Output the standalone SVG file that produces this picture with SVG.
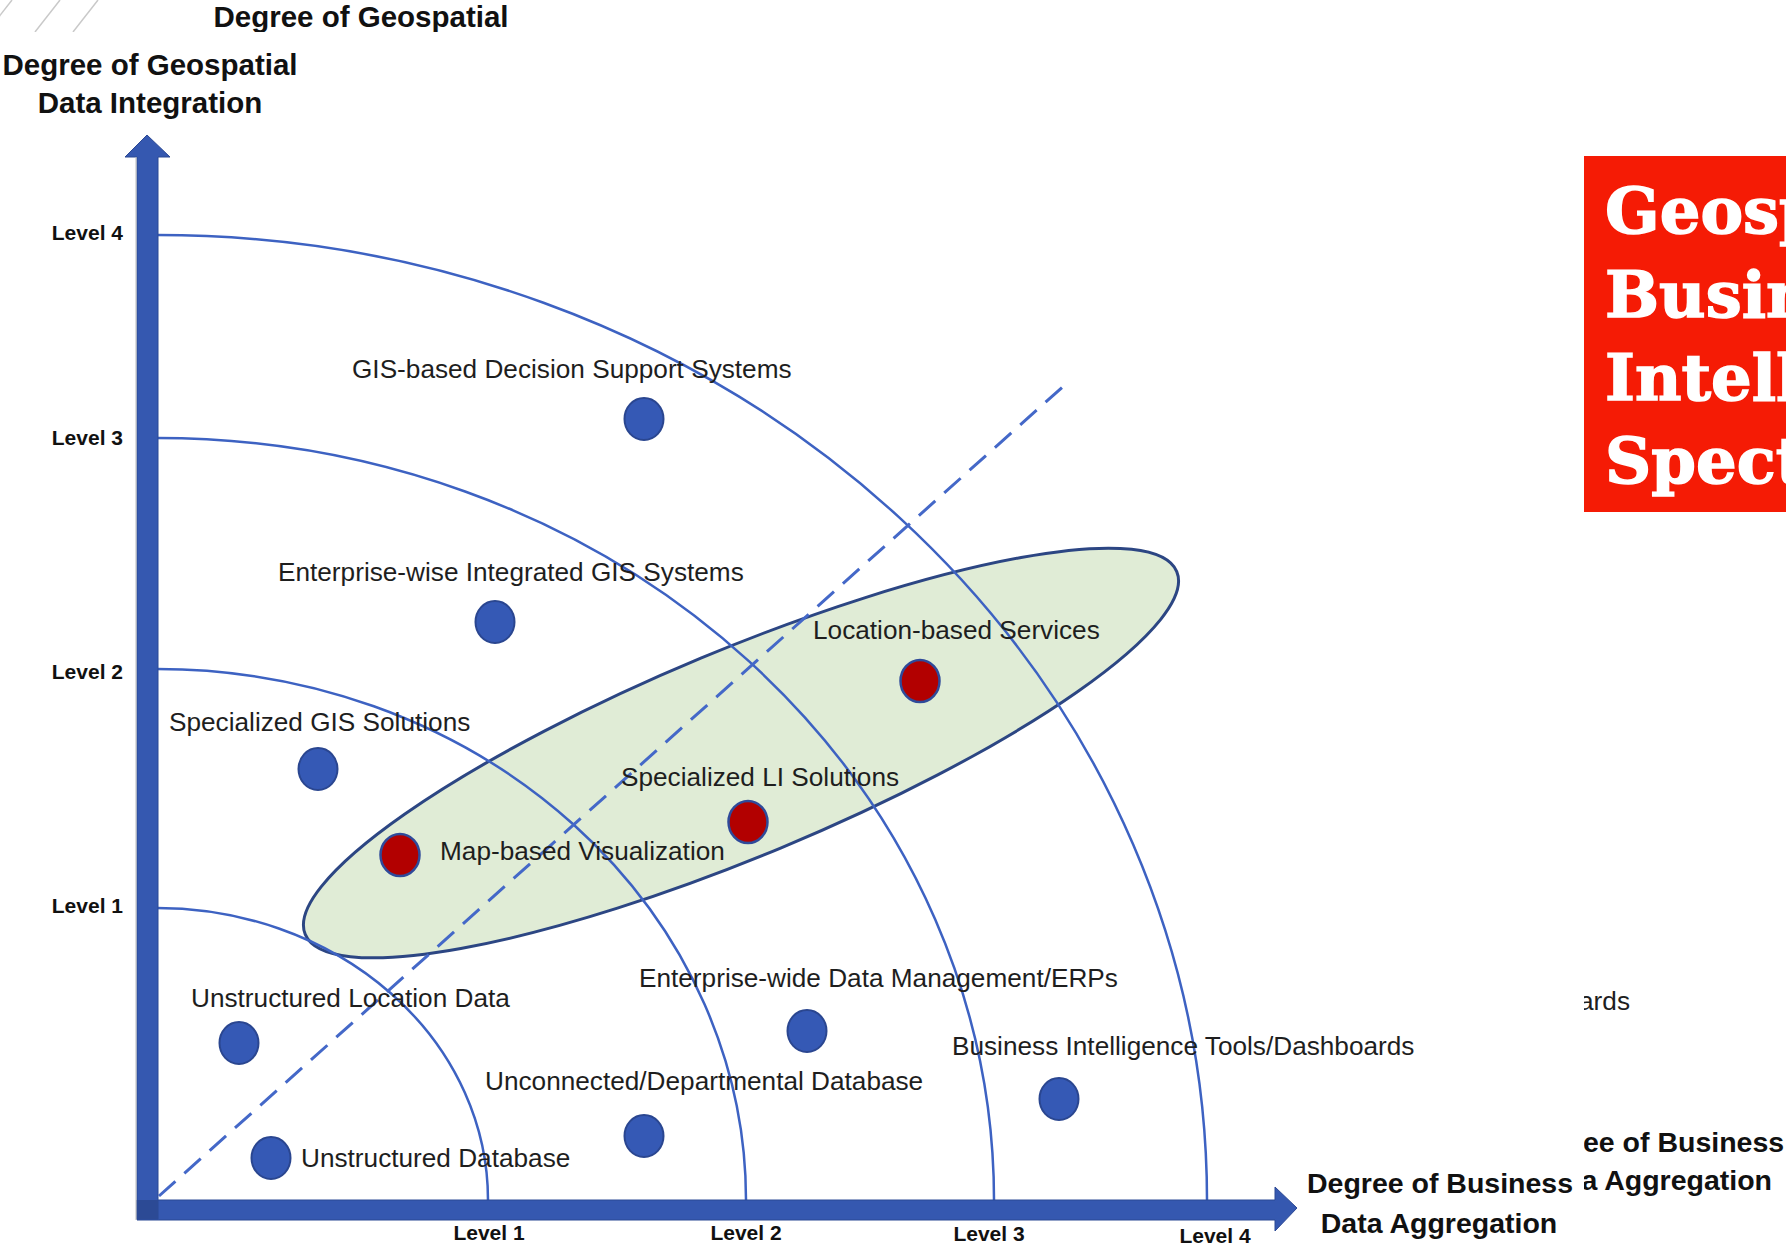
<svg xmlns="http://www.w3.org/2000/svg" width="1786" height="1246" viewBox="0 0 1786 1246">
<style>
.lbl{font-family:"Liberation Sans",Arial,sans-serif;font-size:26.2px;fill:#1e1e1e}
.lvl{font-family:"Liberation Sans",Arial,sans-serif;font-size:21px;font-weight:bold;fill:#111}
.ttl{font-family:"Liberation Sans",Arial,sans-serif;font-size:29.5px;font-weight:bold;fill:#111}
.ttl2{font-family:"Liberation Sans",Arial,sans-serif;font-size:28.5px;font-weight:bold;fill:#111}
.arc{fill:none;stroke:#3d62c2;stroke-width:2.5}
.dot{fill:#3559b5;stroke:#2a4690;stroke-width:2}
.red{fill:#b20000;stroke:#2f4a9a;stroke-width:2.5}
.axis{fill:#3558b0;stroke:#2b4894;stroke-width:1}
.red-t{font-family:"DejaVu Serif","Liberation Serif",serif;font-size:64px;font-weight:bold;fill:#fff;stroke:#fff;stroke-width:1.5}
</style>
<defs>
<clipPath id="topstrip"><rect x="0" y="0" width="1786" height="32"/></clipPath>
<clipPath id="rightstrip"><rect x="1584" y="0" width="202" height="1246"/></clipPath>
</defs>
<rect x="0" y="0" width="1786" height="1246" fill="#fff"/>
<g id="background-strip" clip-path="url(#topstrip)">
<g stroke="#c9c9c9" stroke-width="1.5">
<line x1="-13" y1="32" x2="12" y2="0"/>
<line x1="35" y1="32" x2="60" y2="0"/>
<line x1="73" y1="32" x2="98" y2="0"/>
</g>
<text class="ttl" x="361" y="27" text-anchor="middle">Degree of Geospatial</text>
</g>
<g id="background-right" clip-path="url(#rightstrip)">
<text class="lbl" x="1630" y="1010" text-anchor="end">ards</text>
<text class="ttl2" x="1583" y="1152">ee of Business</text>
<text class="ttl2" x="1772" y="1190" text-anchor="end">a Aggregation</text>
</g>
<g id="title-box">
<rect x="1584" y="156" width="210" height="356" fill="#f51b05"/>
<text class="red-t" x="1605" y="233">Geosp</text>
<text class="red-t" x="1605" y="317">Busin</text>
<text class="red-t" x="1605" y="400">Intell</text>
<text class="red-t" x="1605" y="483">Spect</text>
</g>
<g id="cluster">
<ellipse cx="741" cy="753" rx="472" ry="103" transform="rotate(-22.6 741 753)" fill="#e0ecd6" stroke="#2c4683" stroke-width="3"/>
</g>
<g id="connectors">
<path class="arc" d="M157,908 A331,292 0 0,1 488,1200"/>
<path class="arc" d="M157,669 A589,531 0 0,1 746,1200"/>
<path class="arc" d="M157,438 A837,762 0 0,1 994,1200"/>
<path class="arc" d="M157,235 A1050,965 0 0,1 1207,1200"/>
<line x1="159" y1="1196" x2="1067" y2="383" stroke="#4468c8" stroke-width="3" stroke-dasharray="22 12"/>
</g>
<g id="axes">
<polygon class="axis" points="137,1200 1275,1200 1275,1187 1297,1208 1275,1231 1275,1220 137,1220"/>
<polygon class="axis" points="137,1219 137,157 125,157 147,135 170,157 158,157 158,1219"/>
<rect x="137" y="1200" width="21" height="19" fill="#2c4a95"/>
<line x1="136" y1="157" x2="136" y2="1220" stroke="#bbb" stroke-width="1"/>
</g>
<g id="axis-labels">
<text class="ttl" x="150" y="75" text-anchor="middle">Degree of Geospatial</text>
<text class="ttl" x="150" y="113" text-anchor="middle">Data Integration</text>
<text class="ttl2" x="1440" y="1193" text-anchor="middle">Degree of Business</text>
<text class="ttl2" x="1439" y="1233" text-anchor="middle">Data Aggregation</text>
<text class="lvl" x="123" y="240" text-anchor="end">Level 4</text>
<text class="lvl" x="123" y="445" text-anchor="end">Level 3</text>
<text class="lvl" x="123" y="679" text-anchor="end">Level 2</text>
<text class="lvl" x="123" y="913" text-anchor="end">Level 1</text>
<text class="lvl" x="489" y="1240" text-anchor="middle">Level 1</text>
<text class="lvl" x="746" y="1240" text-anchor="middle">Level 2</text>
<text class="lvl" x="989" y="1241" text-anchor="middle">Level 3</text>
<text class="lvl" x="1215" y="1243" text-anchor="middle">Level 4</text>
</g>
<g id="node-gis-dss"><ellipse class="dot" cx="644" cy="419" rx="19.5" ry="21"/><text class="lbl" x="352" y="378">GIS-based Decision Support Systems</text></g>
<g id="node-enterprise-gis"><ellipse class="dot" cx="495" cy="622" rx="19.5" ry="21"/><text class="lbl" x="278" y="581">Enterprise-wise Integrated GIS Systems</text></g>
<g id="node-specialized-gis"><ellipse class="dot" cx="318" cy="769" rx="19.5" ry="21"/><text class="lbl" x="169" y="731">Specialized GIS Solutions</text></g>
<g id="node-map-viz"><ellipse class="red" cx="400" cy="855" rx="19.5" ry="21"/><text class="lbl" x="440" y="860">Map-based Visualization</text></g>
<g id="node-specialized-li"><ellipse class="red" cx="748" cy="822" rx="19.5" ry="21"/><text class="lbl" x="621" y="786">Specialized LI Solutions</text></g>
<g id="node-lbs"><ellipse class="red" cx="920" cy="681" rx="19.5" ry="21"/><text class="lbl" x="813" y="639">Location-based Services</text></g>
<g id="node-unstructured-location"><ellipse class="dot" cx="239" cy="1043" rx="19.5" ry="21"/><text class="lbl" x="191" y="1007">Unstructured Location Data</text></g>
<g id="node-erp"><ellipse class="dot" cx="807" cy="1031" rx="19.5" ry="21"/><text class="lbl" x="639" y="987">Enterprise-wide Data Management/ERPs</text></g>
<g id="node-bi"><ellipse class="dot" cx="1059" cy="1099" rx="19.5" ry="21"/><text class="lbl" x="952" y="1055">Business Intelligence Tools/Dashboards</text></g>
<g id="node-departmental"><ellipse class="dot" cx="644" cy="1136" rx="19.5" ry="21"/><text class="lbl" x="485" y="1090">Unconnected/Departmental Database</text></g>
<g id="node-unstructured-db"><ellipse class="dot" cx="271" cy="1158" rx="19.5" ry="21"/><text class="lbl" x="301" y="1167">Unstructured Database</text></g>
</svg>
